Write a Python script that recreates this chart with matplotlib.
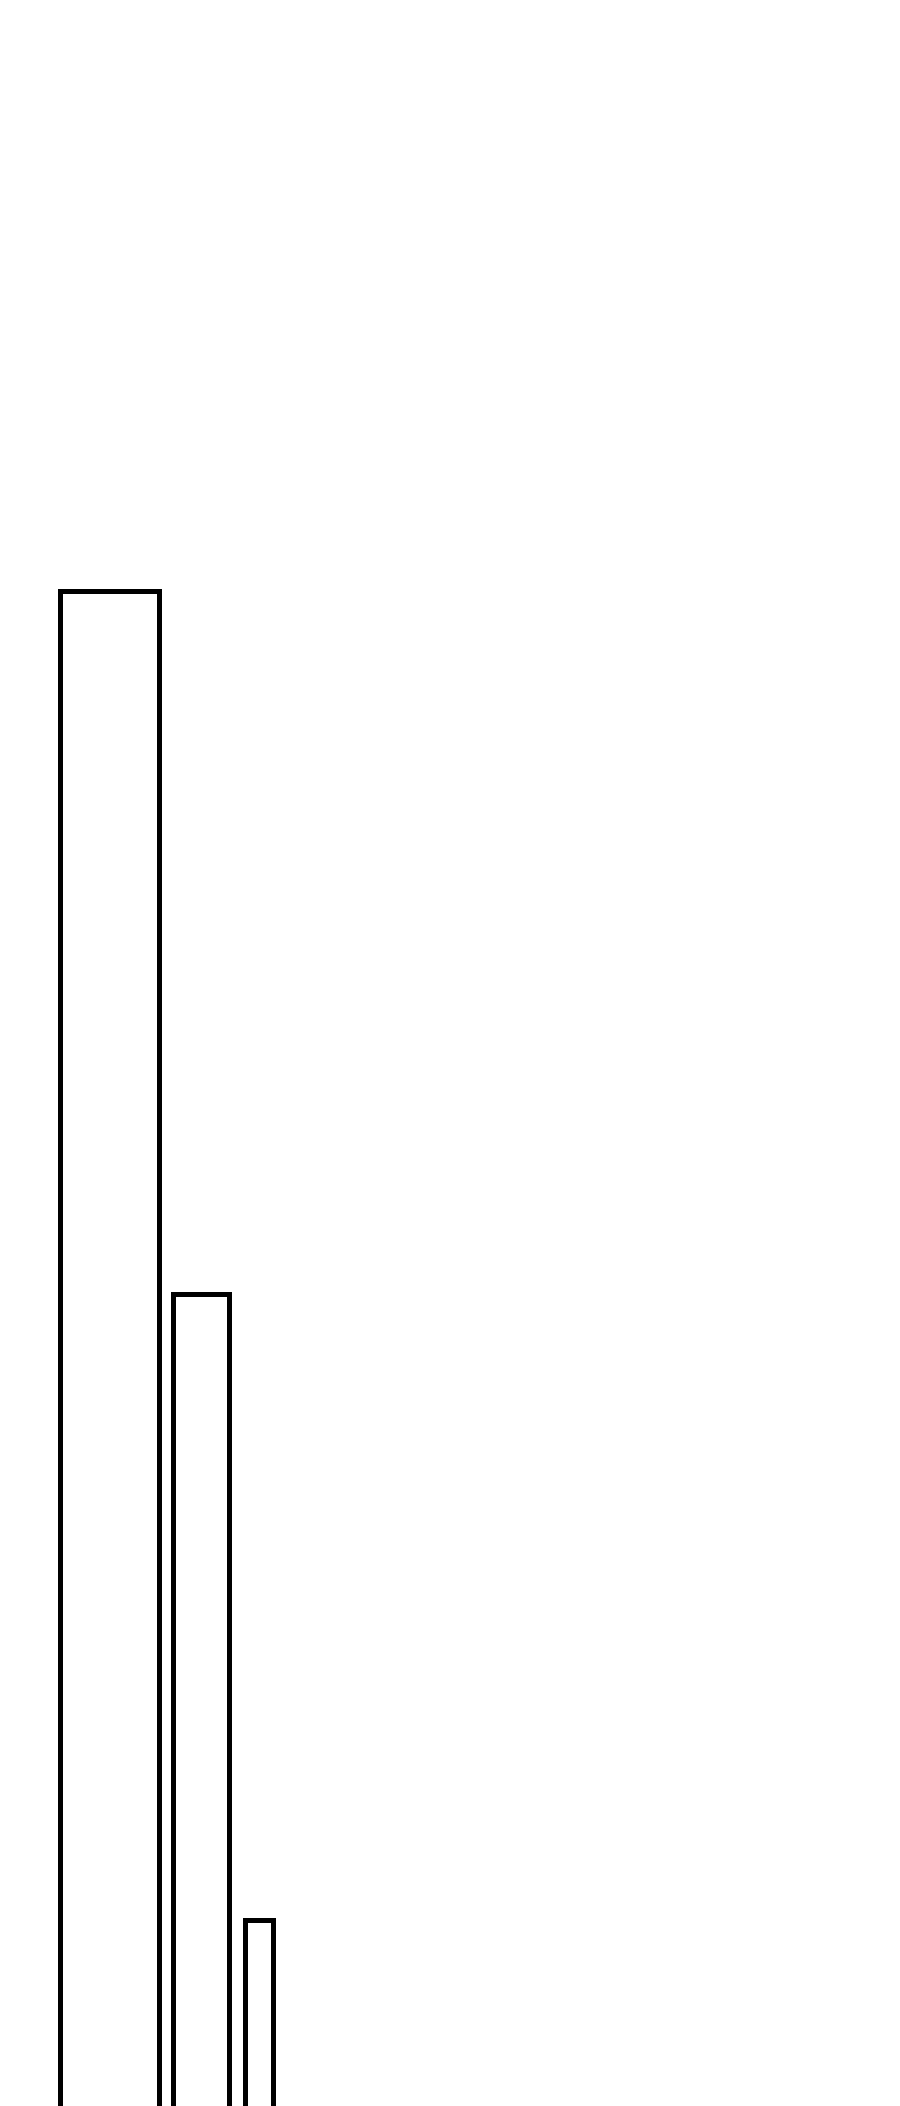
import matplotlib
matplotlib.use("Agg")
import matplotlib.pyplot as plt

# Data (y in pixel-like units from the bottom edge)
categories = ["A", "B", "C"]
values = [1527, 824, 198]
widths = [99, 56, 27.5]

W, H = 900, 2106
fig = plt.figure(figsize=(W / 100, H / 100), dpi=100)
fig.patch.set_facecolor("white")
ax = fig.add_axes([0, 0, 1, 1])
ax.set_xlim(0, W)
ax.set_ylim(12, H + 12)
ax.axis("off")

start = 59.5
gaps = [0, 14.5, 16]
lefts = []
x = start
for i, w in enumerate(widths):
    x += gaps[i]
    lefts.append(x)
    x += w

ax.bar(lefts, values, width=widths, bottom=0, align="edge",
       facecolor="white", edgecolor="black", linewidth=3.6)

fig.savefig("out.png", dpi=100, facecolor="white")
